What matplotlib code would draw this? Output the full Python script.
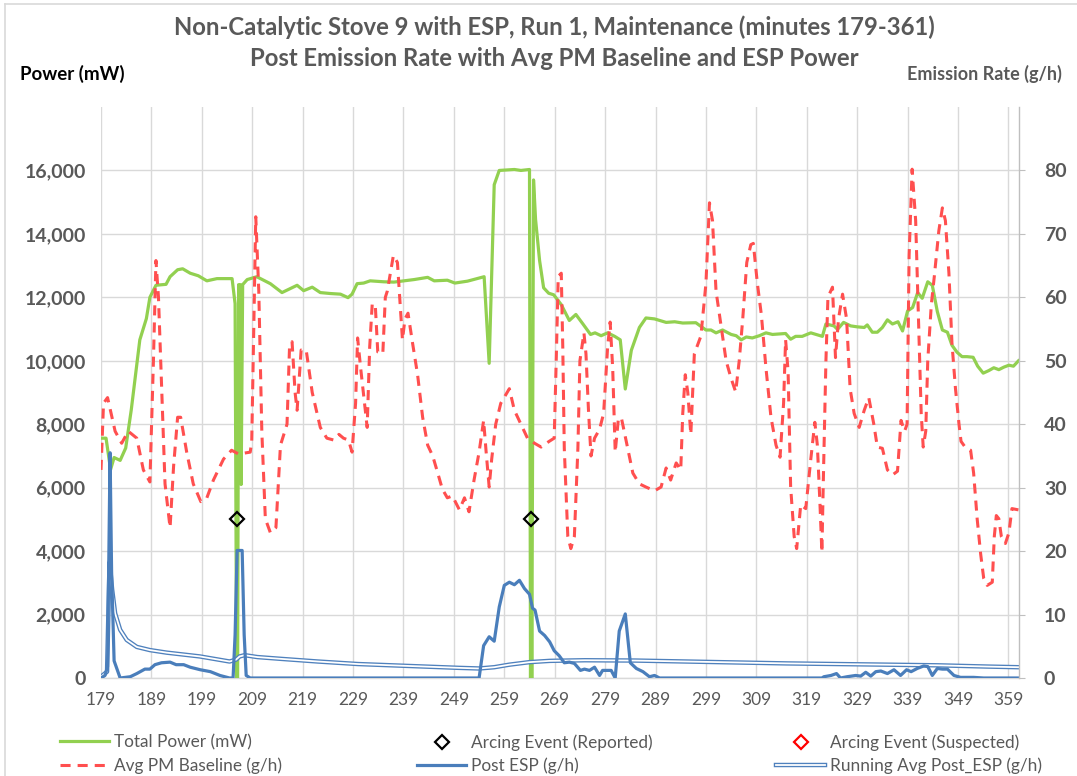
import matplotlib
matplotlib.use("Agg")
import matplotlib.pyplot as plt
from matplotlib.lines import Line2D
from matplotlib.ticker import FuncFormatter

plt.rcParams['font.family'] = ['Lato', 'DejaVu Sans']

# ---------------- data (minutes, values) ----------------
power_t = [179.0, 180.0, 180.9, 181.6, 182.8, 183.9, 185.0, 186.7, 188.0, 188.7,
           189.9, 191.9, 192.7, 194.2, 195.2, 196.7, 198.3, 200.0, 202.0, 205.0,
           205.6, 205.9, 206.1, 206.3, 206.5, 206.65, 206.8, 207.1, 208.0, 209.9,
           212.6, 214.9, 217.9, 219.2, 220.9, 222.5, 224.5, 226.5, 228.0, 228.8,
           229.8, 231.1, 232.4, 235.1, 237.1, 239.1, 241.1, 243.8, 245.1, 247.7,
           249.2, 251.7, 255.0, 256.0, 257.0, 258.0, 261.0, 262.3, 264.0, 264.2,
           264.35, 264.45, 264.8, 265.2, 266.0, 266.8, 267.8, 268.8, 270.3, 271.9,
           273.2, 274.6, 276.1, 277.0, 278.2, 279.5, 280.9, 282.0, 283.0, 284.2,
           285.8, 287.1, 288.8, 291.1, 292.8, 294.4, 297.0, 299.0, 300.0, 301.0,
           302.3, 304.0, 305.0, 306.0, 307.0, 308.2, 309.6, 310.9, 312.2, 314.8,
           315.8, 316.8, 318.1, 319.8, 322.1, 322.8, 324.4, 325.1, 326.3, 327.7,
           329.0, 330.4, 331.0, 332.0, 333.0, 334.0, 335.0, 336.0, 337.1, 338.0,
           339.0, 340.0, 341.0, 341.9, 343.0, 343.9, 344.9, 345.9, 346.9, 347.8,
           348.8, 349.8, 350.8, 352.0, 352.9, 354.0, 355.1, 356.1, 357.1, 358.1,
           359.1, 360.0, 361.0]
power_mw = [7560, 7560, 6570, 6950, 6860, 7250, 8450, 10660, 11330, 12000,
            12380, 12410, 12650, 12870, 12900, 12760, 12680, 12520, 12590, 12590,
            11800, 0, 0, 12400, 6200, 12400, 6100, 12400, 12560, 12650,
            12430, 12150, 12380, 12210, 12320, 12150, 12120, 12100, 11990, 12100,
            12430, 12450, 12520, 12490, 12480, 12520, 12560, 12630, 12520, 12540,
            12450, 12510, 12650, 9920, 15550, 16000, 16030, 16000, 16030, 0,
            4500, 0, 15700, 14460, 13160, 12300, 12130, 12080, 11770, 11270,
            11460, 11160, 10830, 10880, 10790, 10880, 10770, 10660, 9110, 10330,
            11050, 11350, 11320, 11210, 11230, 11190, 11200, 10970, 10970, 10880,
            10970, 10830, 10790, 10660, 10750, 10720, 10790, 10880, 10830, 10860,
            10680, 10770, 10770, 10880, 10770, 11160, 11100, 10990, 11210, 11100,
            11070, 11050, 11130, 10900, 10900, 11050, 11290, 11160, 11230, 10940,
            11570, 11680, 12150, 11970, 12490, 12380, 11550, 10970, 10900, 10490,
            10270, 10130, 10130, 10110, 9830, 9610, 9690, 9780, 9720, 9800,
            9860, 9830, 10000]

baseline_t = [179.0, 179.5, 180.3, 181.0, 181.8, 183.1, 184.4, 186.1, 187.4, 188.7,
              189.4, 189.9, 190.4, 191.1, 191.7, 192.7, 193.4, 194.2, 194.8, 196.0,
              197.3, 198.8, 200.0, 201.3, 203.3, 204.9, 206.3, 208.6, 208.9, 209.3,
              209.7, 210.3, 210.9, 211.6, 212.6, 213.7, 214.6, 215.9, 216.4, 216.9,
              217.5, 217.9, 218.7, 219.7, 220.9, 222.5, 223.8, 225.2, 226.2, 227.1,
              228.1, 228.8, 229.5, 229.9, 230.5, 231.1, 231.8, 232.3, 232.8, 233.4,
              233.9, 234.9, 235.4, 235.8, 237.0, 237.8, 238.3, 238.8, 239.3, 239.9,
              240.8, 241.8, 242.8, 243.8, 244.8, 245.8, 246.7, 247.7, 248.7, 250.1,
              251.1, 252.0, 253.0, 254.0, 254.9, 255.4, 256.0, 256.5, 257.3, 258.3,
              260.0, 261.0, 262.3, 263.6, 265.0, 266.3, 267.9, 268.9, 269.3, 269.7,
              270.3, 270.6, 270.9, 271.6, 272.2, 272.9, 273.6, 274.0, 274.8, 275.2,
              275.7, 276.2, 276.9, 277.9, 278.7, 279.5, 280.0, 280.5, 281.0, 281.6,
              282.2, 283.2, 284.5, 285.8, 287.1, 288.8, 290.1, 291.1, 292.0, 293.1,
              294.0, 294.4, 294.9, 295.4, 296.0, 296.7, 298.0, 299.0, 299.7, 300.3,
              301.0, 302.0, 303.0, 304.0, 304.9, 305.6, 306.3, 307.1, 307.9, 308.4,
              309.2, 310.0, 310.9, 311.9, 312.9, 313.7, 314.4, 314.8, 315.3, 315.8,
              316.5, 317.0, 317.8, 318.8, 319.8, 320.6, 321.1, 321.6, 322.0, 322.3,
              322.8, 323.2, 324.1, 324.7, 325.3, 326.1, 326.9, 327.6, 328.4, 329.4,
              330.4, 331.3, 332.3, 333.0, 334.0, 335.0, 336.0, 337.0, 337.7, 338.4,
              338.9, 339.3, 339.9, 340.6, 341.2, 341.7, 342.1, 342.6, 343.0, 343.7,
              344.3, 345.2, 345.9, 346.5, 347.2, 347.8, 348.5, 349.2, 349.6, 350.5,
              351.5, 352.1, 352.8, 353.5, 354.1, 354.8, 355.8, 356.2, 356.6, 357.1,
              357.6, 358.4, 359.1, 359.7, 361.0]
baseline_gh = [32.8, 43.3, 44.2, 41.7, 38.9, 37.0, 38.9, 37.8, 32.8, 30.9,
               50.0, 65.8, 60.0, 44.4, 30.6, 23.7, 33.4, 41.1, 41.1, 35.6,
               30.6, 27.8, 28.4, 31.2, 34.5, 35.9, 35.3, 35.6, 37.3, 55.5,
               72.7, 61.0, 38.9, 25.1, 22.9, 23.7, 36.7, 40.0, 52.2, 53.0,
               45.0, 42.2, 51.7, 51.7, 45.0, 39.5, 37.8, 37.5, 38.4, 37.8,
               37.5, 35.6, 43.3, 53.6, 48.9, 44.5, 39.5, 52.2, 58.9, 58.9,
               51.4, 51.1, 60.0, 61.0, 66.6, 65.5, 59.4, 53.3, 56.6, 57.5,
               52.8, 47.8, 41.1, 36.7, 35.0, 32.3, 29.8, 28.4, 28.7, 26.5,
               28.4, 26.2, 31.2, 35.6, 40.6, 35.6, 30.1, 34.5, 40.0, 43.3,
               45.6, 42.2, 40.0, 37.8, 37.0, 36.4, 37.3, 37.8, 50.0, 63.3,
               63.8, 52.2, 36.2, 22.3, 20.4, 22.3, 36.2, 50.0, 54.4, 51.1,
               42.2, 35.0, 37.8, 39.2, 41.7, 52.2, 56.1, 48.9, 35.6, 40.6,
               41.1, 37.3, 32.3, 30.6, 30.1, 29.5, 30.1, 33.1, 31.2, 33.9,
               32.8, 41.7, 47.8, 45.0, 38.4, 51.1, 53.9, 62.2, 74.9, 72.1,
               61.0, 55.5, 50.0, 47.2, 45.1, 50.0, 56.6, 65.5, 68.3, 68.5,
               62.2, 57.2, 48.9, 41.1, 36.7, 34.8, 43.3, 53.3, 48.3, 30.1,
               22.3, 20.4, 27.3, 26.7, 34.5, 40.3, 36.7, 27.8, 19.8, 31.7,
               50.0, 60.0, 61.6, 50.5, 56.6, 60.5, 56.6, 45.6, 41.7, 39.5,
               42.2, 44.2, 40.0, 36.4, 36.2, 32.8, 32.0, 32.6, 40.6, 38.9,
               40.0, 66.6, 80.2, 72.1, 55.5, 41.7, 36.4, 38.9, 50.0, 58.8,
               63.3, 70.5, 74.1, 72.1, 63.8, 52.8, 45.6, 40.0, 37.3, 36.3,
               35.9, 32.3, 25.1, 19.5, 15.7, 14.6, 15.1, 22.3, 25.6, 25.1,
               22.3, 21.2, 22.9, 26.7, 26.5]

post_t = [179.0, 179.8, 180.3, 180.8, 181.1, 181.6, 182.8, 184.8, 186.1, 187.7,
          188.7, 189.7, 191.0, 192.7, 193.9, 195.4, 196.7, 198.7, 200.7, 202.6,
          204.5, 205.2, 205.6, 206.0, 207.0, 207.4, 207.8, 208.6, 254.0, 254.9,
          256.0, 257.0, 258.0, 259.0, 260.0, 261.0, 262.0, 263.0, 264.0, 264.6,
          265.1, 266.0, 267.0, 268.0, 268.9, 269.9, 270.9, 271.9, 272.9, 274.1,
          274.9, 275.9, 276.9, 277.9, 278.5, 280.2, 281.0, 281.8, 283.0, 284.0,
          285.2, 286.5, 287.8, 288.8, 289.8, 322.0, 322.4, 323.8, 324.9, 325.7,
          327.0, 328.7, 329.7, 330.7, 331.7, 332.7, 333.7, 335.0, 336.3, 337.6,
          338.8, 339.7, 340.9, 342.2, 343.0, 343.9, 344.9, 345.9, 346.9, 348.2,
          349.5, 352.1, 354.1, 361.0]
post_gh = [0.0, 0.4, 1.8, 35.5, 16.8, 2.7, 0.0, 0.2, 0.7, 1.4,
           1.4, 2.1, 2.4, 2.5, 2.1, 2.1, 1.7, 1.3, 1.0, 0.4,
           0.0, 0.0, 6.8, 20.1, 20.1, 6.8, 0.4, 0.0, 0.0, 5.1,
           6.5, 5.8, 11.2, 14.6, 15.1, 14.7, 15.4, 14.1, 13.2, 11.0,
           10.7, 7.4, 6.7, 5.7, 4.3, 3.5, 2.4, 2.5, 2.3, 1.2,
           1.4, 1.2, 1.7, 0.4, 1.2, 1.2, 0.0, 7.4, 10.1, 2.4,
           1.5, 1.0, 0.2, 0.4, 0.0, 0.0, 0.2, 0.4, 0.7, 0.0,
           0.2, 0.4, 0.3, 0.9, 0.3, 1.0, 1.1, 0.7, 1.3, 0.4,
           1.3, 1.0, 1.5, 1.9, 1.8, 0.4, 1.5, 1.4, 1.4, 0.4,
           0.1, 0.1, 0.0, 0.0]

runavg_t = [179.0, 180.2, 180.7, 181.2, 181.8, 182.8, 184.1, 186.1, 188.7, 192.0,
            198.6, 204.5, 205.8, 206.5, 207.5, 210.0, 215.0, 222.0, 230.0, 240.0,
            250.0, 254.0, 257.0, 260.0, 264.0, 268.0, 275.0, 285.0, 295.0, 305.0,
            315.0, 325.0, 335.0, 345.0, 355.0, 361.0]
runavg_gh = [0.2, 1.0, 18.3, 14.0, 10.2, 7.6, 6.0, 4.9, 4.4, 4.0,
             3.4, 2.6, 2.9, 3.4, 3.6, 3.3, 3.0, 2.6, 2.2, 1.9,
             1.6, 1.5, 1.7, 2.1, 2.5, 2.7, 2.8, 2.75, 2.6, 2.45,
             2.3, 2.2, 2.1, 2.0, 1.8, 1.7]

arc_reported_t = [206.0, 264.3]
arc_reported_mw = [5000, 5000]
arc_suspected_t = []
arc_suspected_mw = []

x_ticks = list(range(179, 360, 10))

# ---------------- colours ----------------
GREEN = '#92D050'
RED = '#FF4F4F'
BLUE = '#4A7EBB'
BLUE2 = '#4F81BD'
GRID = '#D9D9D9'
TXT = '#595959'

fig = plt.figure(figsize=(10.77, 7.76), dpi=100)
ax = fig.add_axes([101 / 1077, 1 - 678 / 776, (1019 - 101) / 1077, (678 - 107) / 776])
ax2 = ax.twinx()

# primary axis: power
l_power, = ax.plot(power_t, power_mw, color=GREEN, lw=2.3, zorder=3, solid_joinstyle='round')
l_rep, = ax.plot(arc_reported_t, arc_reported_mw, ls='none', marker='D', markersize=7,
                 markerfacecolor='none', markeredgecolor='black', markeredgewidth=1.6, zorder=5)
l_sus, = ax.plot(arc_suspected_t, arc_suspected_mw, ls='none', marker='D', markersize=7,
                 markerfacecolor='none', markeredgecolor='red', markeredgewidth=1.6)

# secondary axis: emission rates
l_base, = ax2.plot(baseline_t, baseline_gh, color=RED, lw=2.2, ls=(0, (3.3, 2.3)))
l_ra_out, = ax2.plot(runavg_t, runavg_gh, color=BLUE2, lw=3.2)
l_ra_in, = ax2.plot(runavg_t, runavg_gh, color='white', lw=1.3)
l_post, = ax2.plot(post_t, post_gh, color=BLUE, lw=2.3, solid_joinstyle='round')

ax.set_xlim(179, 361.1)
ax.set_ylim(0, 18000)
ax2.set_ylim(0, 90)
ax.set_xticks(x_ticks)
ax.set_yticks(range(0, 16001, 2000))
ax2.set_yticks(range(0, 81, 10))
ax.yaxis.set_major_formatter(FuncFormatter(lambda v, p: f"{int(v):,}"))

ax.grid(True, color=GRID, lw=1.0)
ax.set_axisbelow(True)
for s in ['left', 'top', 'right']:
    ax.spines[s].set_visible(False)
ax.spines['bottom'].set_color(GRID)
ax.spines['bottom'].set_linewidth(1.0)
for s in ['left', 'top', 'bottom']:
    ax2.spines[s].set_visible(False)
ax2.spines['right'].set_color('#BFBFBF')
ax2.spines['right'].set_linewidth(1.0)

ax.tick_params(axis='x', length=0, pad=10, labelsize=12.5, labelcolor=TXT)
ax.tick_params(axis='y', length=0, pad=11, labelsize=14, labelcolor=TXT)
ax2.tick_params(axis='y', length=4, color='#BFBFBF', pad=14, labelsize=14, labelcolor=TXT)
for lab in ax.get_yticklabels() + ax2.get_yticklabels():
    lab.set_fontweight('bold')

# titles and axis captions
fig.text(0.515, 1 - 27 / 776, "Non-Catalytic Stove 9 with ESP, Run 1, Maintenance (minutes 179-361)",
         ha='center', va='center', fontsize=17.2, fontweight='bold', color=TXT)
fig.text(0.515, 1 - 58 / 776, "Post Emission Rate with Avg PM Baseline and ESP Power",
         ha='center', va='center', fontsize=17.2, fontweight='bold', color=TXT)
fig.text(20 / 1077, 1 - 74 / 776, "Power (mW)", ha='left', va='center',
         fontsize=13.5, fontweight='bold', color='black')
fig.text(1062 / 1077, 1 - 74 / 776, "Emission Rate (g/h)", ha='right', va='center',
         fontsize=13, fontweight='bold', color=TXT)

# chart border (left and top edges visible in the screenshot)
fig.add_artist(Line2D([5 / 1077, 5 / 1077], [0, 1 - 4 / 776], transform=fig.transFigure, color=GRID, lw=1.2))
fig.add_artist(Line2D([5 / 1077, 1], [1 - 4 / 776, 1 - 4 / 776], transform=fig.transFigure, color=GRID, lw=1.2))

# legend: three columns placed like the Excel legend
leg_kw = dict(loc='upper left', frameon=False, fontsize=12.4, handlelength=2.85,
              handletextpad=0.3, borderpad=0, borderaxespad=0, labelspacing=0.42,
              labelcolor=TXT)
cols = [
    ([l_power, l_base], ["Total Power (mW)", "Avg PM Baseline (g/h)"], 60),
    ([l_rep, l_post], ["Arcing Event (Reported)", "Post ESP (g/h)"], 417),
    ([l_sus, (l_ra_out, l_ra_in)], ["Arcing Event (Suspected)", "Running Avg Post_ESP (g/h)"], 776),
]
for hs, labels, x0 in cols:
    fig.legend(hs, labels, bbox_to_anchor=(x0 / 1077, 1 - 734 / 776), **leg_kw)

fig.savefig("out.png", dpi=100)
